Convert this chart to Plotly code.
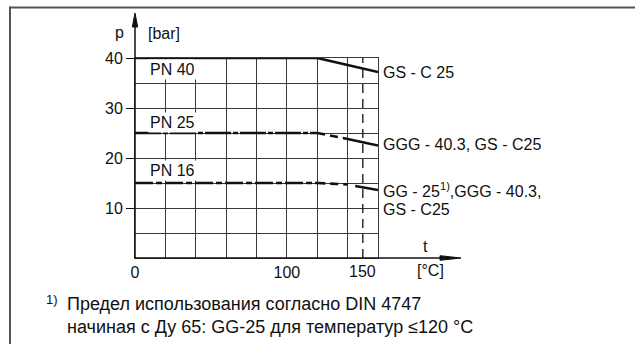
import plotly.graph_objects as go

# ---- data ----
pn40_t = [0, 120, 160]
pn40_p = [40, 40, 37.2]

pn25_flat_t = [0, 120]
pn25_flat_p = [25, 25]
pn25_mid_t = [120, 140]
pn25_mid_p = [25, 23.8]
pn25_end_t = [140, 160]
pn25_end_p = [23.8, 22.5]

pn16_flat_t = [0, 120]
pn16_flat_p = [15, 15]
pn16_mid_t = [120, 140]
pn16_mid_p = [15, 14.7]
pn16_end_t = [145, 160]
pn16_end_p = [14.4, 13.6]

limit_t = [150, 150]
limit_p = [0, 40]

x_ticks = [0, 100]
x_ticktext = ["0", "100"]
y_ticks = [10, 20, 30, 40]
y_ticktext = ["10", "20", "30", "40"]

pn_labels = ["PN 40", "PN 25", "PN 16"]
pn_label_p = [37.8, 27.2, 17.6]
mat_labels = ["GS - C 25", "GGG - 40.3, GS - C25", "GG - 25<sup>1)</sup>,GGG - 40.3,", "GS - C25"]
mat_label_p = [37.2, 22.7, 13.6, 9.8]

INK = "#111111"
GRID = "#3a3a3a"
FONT = "Liberation Sans"

fig = go.Figure()

def line(x, y, dash="solid", width=2.6):
    fig.add_trace(go.Scatter(x=x, y=y, mode="lines", showlegend=False, hoverinfo="skip",
                             line=dict(color=INK, width=width, dash=dash)))

line(limit_t, limit_p, dash="9px,6px", width=1.3)
line(pn40_t, pn40_p)
line(pn25_flat_t, pn25_flat_p, dash="26px,2px,5px,2px")
line(pn25_mid_t, pn25_mid_p, dash="8px,5px")
line(pn25_end_t, pn25_end_p)
line(pn16_flat_t, pn16_flat_p, dash="18px,3px,6px,3px")
line(pn16_mid_t, pn16_mid_p, dash="8px,5px")
line(pn16_end_t, pn16_end_p)

anns = []
for txt_, yv in zip(pn_labels, pn_label_p):
    anns.append(dict(x=8.5, y=yv, xref="x", yref="y", text=txt_, showarrow=False,
                     xanchor="left", yanchor="middle", bgcolor="white", borderpad=1,
                     font=dict(family=FONT, size=16, color=INK)))
for txt_, yv in zip(mat_labels, mat_label_p):
    anns.append(dict(x=160, y=yv, xref="x", yref="y", text=txt_, showarrow=False,
                     xanchor="left", yanchor="middle", xshift=3,
                     font=dict(family=FONT, size=16, color=INK)))

def px_x(p):
    return (p - 135) / 243.0

def px_y(p):
    return (258 - p) / 200.0

def txt(text, x, y, size=16, xanchor="left"):
    anns.append(dict(x=x, y=y, xref="paper", yref="paper", text=text, showarrow=False,
                     xanchor=xanchor, yanchor="middle",
                     font=dict(family=FONT, size=size, color=INK)))

txt("p", px_x(119), px_y(32), xanchor="center")
txt("[bar]", px_x(146), px_y(33))
txt("t", px_x(425), px_y(246), xanchor="center")
txt("[°C]", px_x(415), px_y(270))
anns.append(dict(x=150, y=px_y(271), xref="x", yref="paper", text="150", showarrow=False,
                 xanchor="center", yanchor="middle", font=dict(family=FONT, size=16, color=INK)))
txt("1)", px_x(44), px_y(299), size=13)
txt("Предел использования согласно DIN 4747", px_x(65), px_y(304), size=18)
txt("начиная с Ду 65: GG-25 для температур ≤120 °C", px_x(65), px_y(327), size=18)

shapes = [
    # frame (top and left)
    dict(type="line", xref="paper", yref="paper", x0=px_x(10), x1=px_x(640), y0=px_y(7.5), y1=px_y(7.5),
         line=dict(color="#555555", width=2)),
    dict(type="line", xref="paper", yref="paper", x0=px_x(10), x1=px_x(10), y0=px_y(6.5), y1=px_y(344),
         line=dict(color="#555555", width=2)),
    # axis lines
    dict(type="line", xref="paper", yref="paper", x0=0, x1=0, y0=0, y1=px_y(20),
         line=dict(color=INK, width=1.5)),
    dict(type="line", xref="paper", yref="paper", x0=0, x1=px_x(455), y0=0, y1=0,
         line=dict(color=INK, width=1.5)),
    # arrowheads
    dict(type="path", xref="paper", yref="paper",
         path=f"M {px_x(132.3)} {px_y(27)} L {px_x(135)} {px_y(13)} L {px_x(137.7)} {px_y(27)} Z",
         fillcolor=INK, line=dict(color=INK, width=1)),
    dict(type="path", xref="paper", yref="paper",
         path=f"M {px_x(440)} {px_y(255.7)} L {px_x(461)} {px_y(258)} L {px_x(440)} {px_y(260.3)} Z",
         fillcolor=INK, line=dict(color=INK, width=1)),
]

fig.update_layout(
    width=635, height=347, autosize=False,
    margin=dict(l=135, r=257, t=58, b=89),
    paper_bgcolor="white", plot_bgcolor="white",
    font=dict(family=FONT, size=16, color=INK),
    annotations=anns, shapes=shapes,
    xaxis=dict(range=[0, 160], tickvals=x_ticks, ticktext=x_ticktext, ticks="",
               showgrid=True, gridcolor=GRID, gridwidth=1, zeroline=False,
               showline=True, mirror=True, linecolor=GRID, linewidth=1,
               minor=dict(tick0=0, dtick=20, showgrid=True, gridcolor=GRID, gridwidth=1, ticks=""),
               tickfont=dict(family=FONT, size=16, color=INK), fixedrange=True),
    yaxis=dict(range=[0, 40], tickvals=y_ticks, ticktext=y_ticktext, ticks="outside",
               ticklen=8, tickcolor=INK, tickwidth=1,
               showgrid=True, gridcolor=GRID, gridwidth=1, zeroline=False,
               showline=True, mirror=True, linecolor=GRID, linewidth=1,
               minor=dict(tick0=0, dtick=5, showgrid=True, gridcolor=GRID, gridwidth=1, ticks=""),
               tickfont=dict(family=FONT, size=16, color=INK), fixedrange=True),
)

fig.write_html("out.html", config={"displayModeBar": False},
               post_script="document.body.style.margin='0px';document.body.style.overflow='hidden';")
